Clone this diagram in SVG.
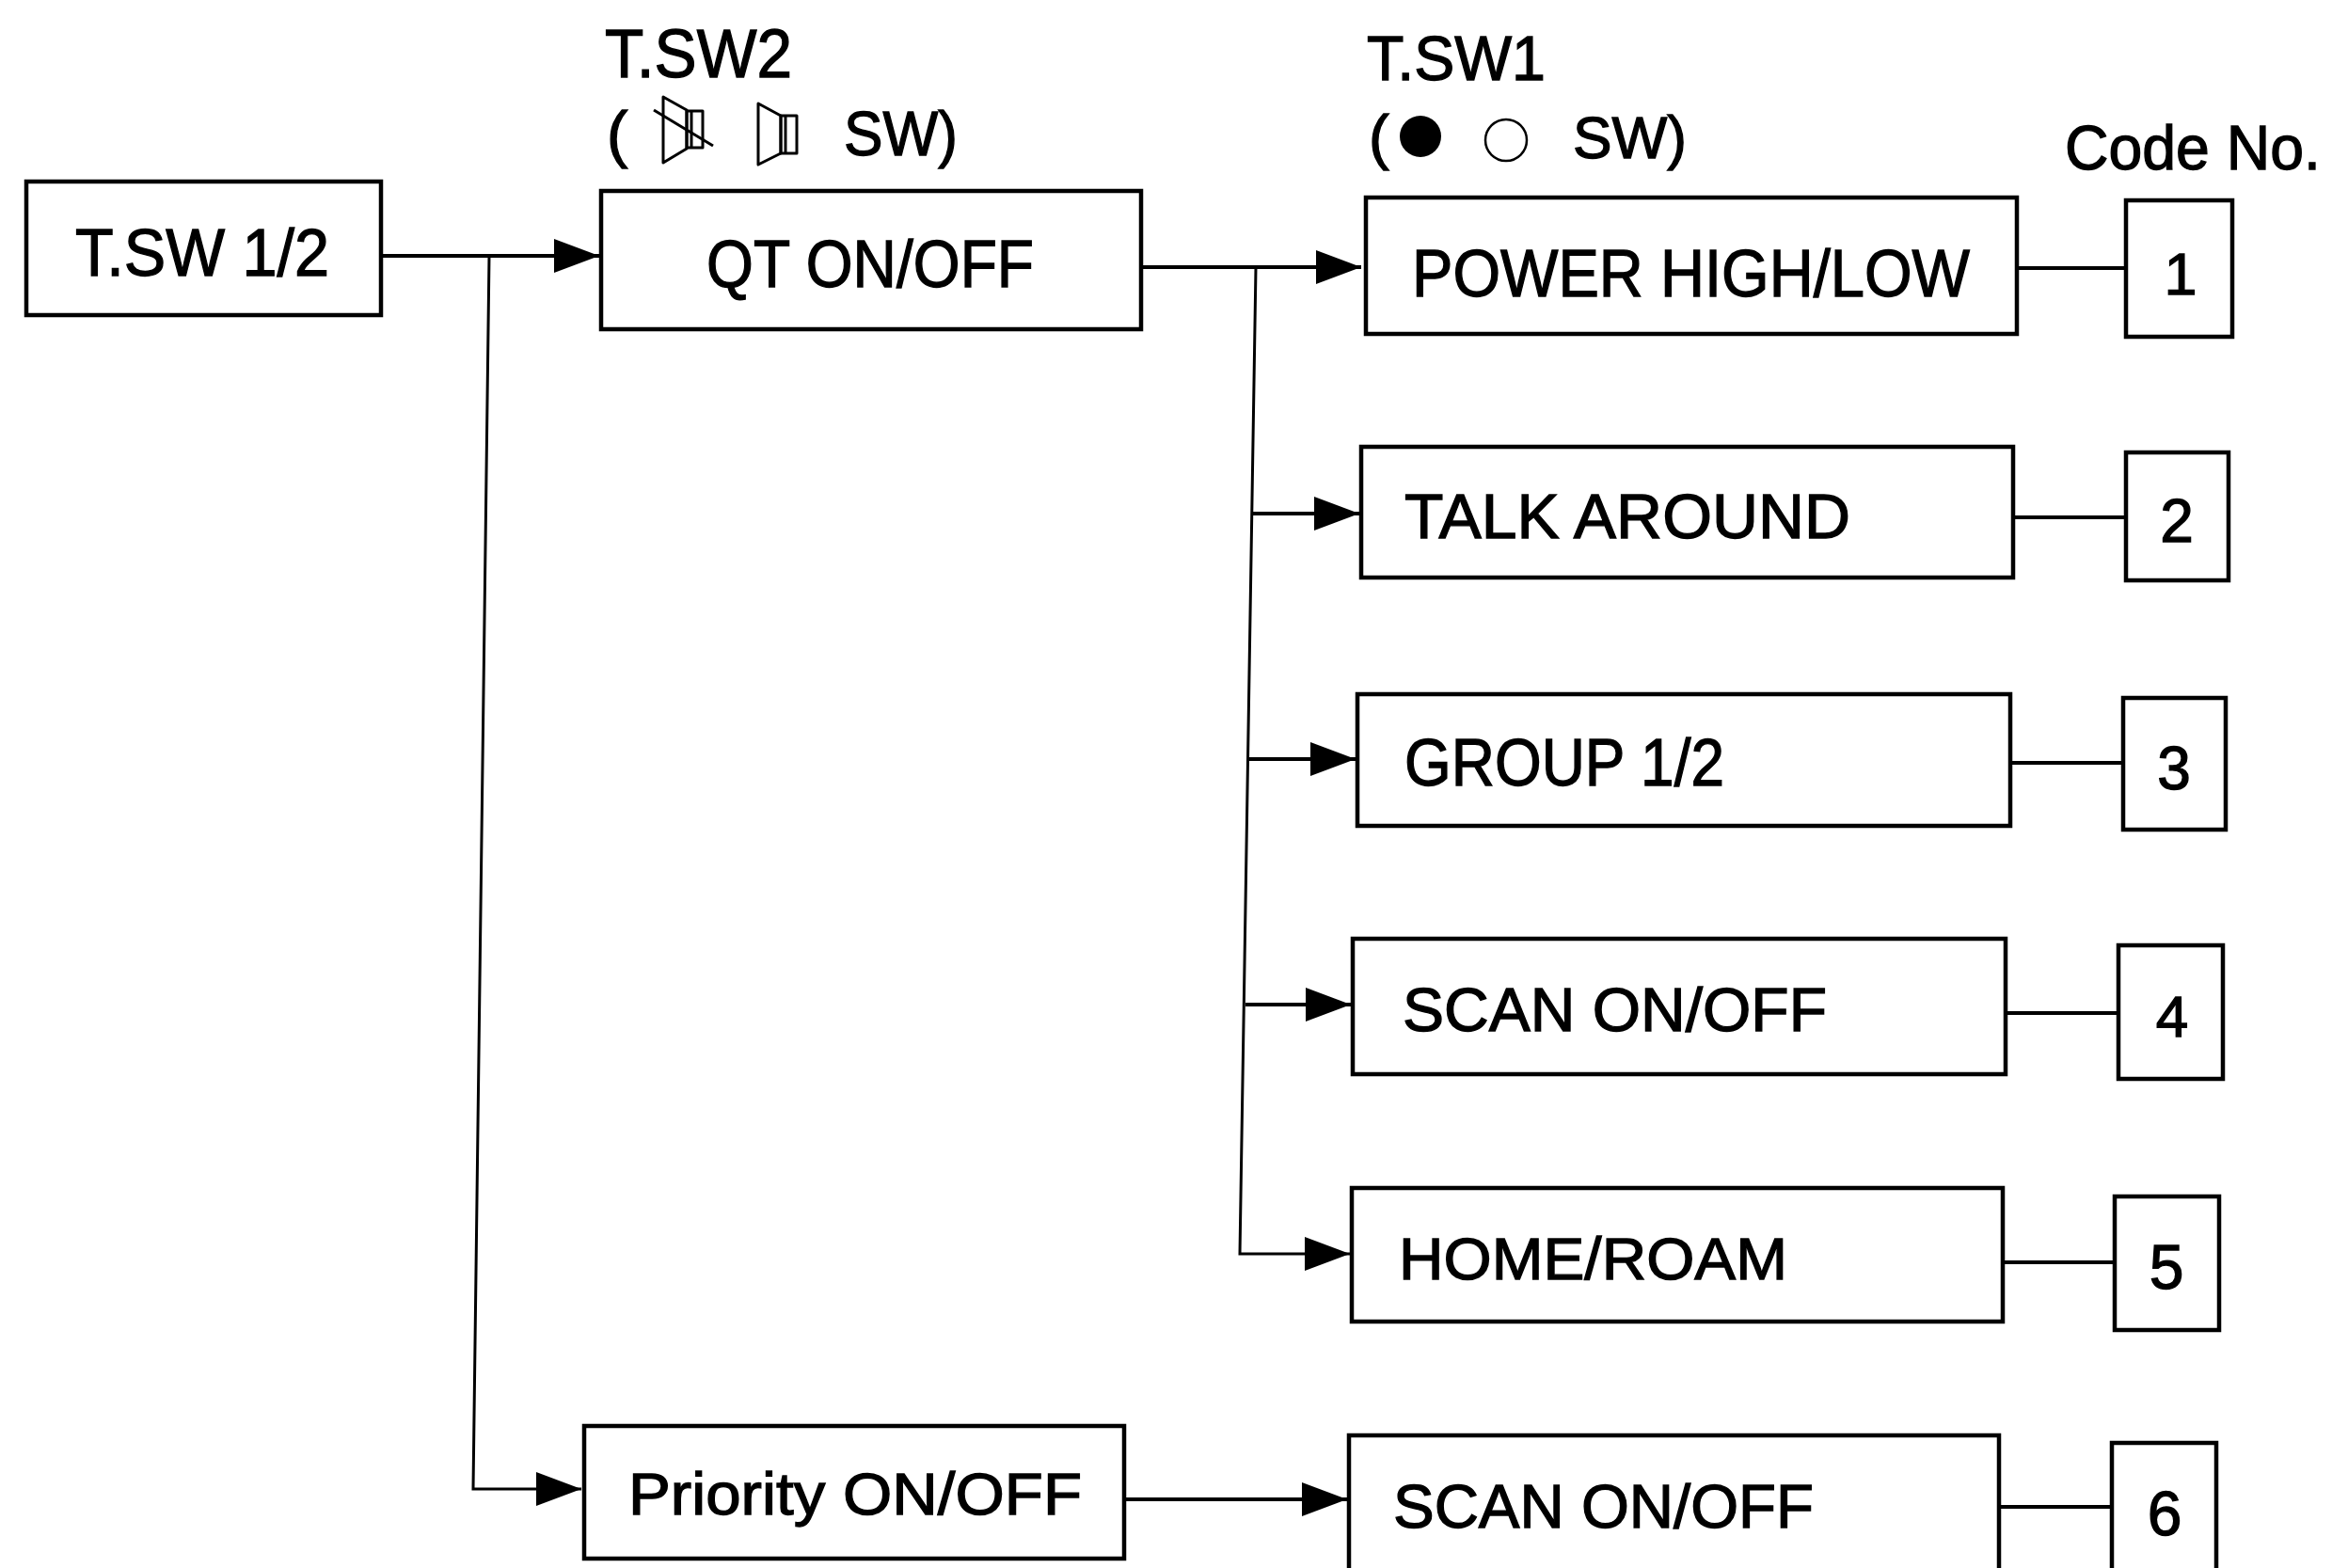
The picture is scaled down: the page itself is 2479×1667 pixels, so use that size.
<svg xmlns="http://www.w3.org/2000/svg" width="2479" height="1667" viewBox="0 0 2479 1667">
<defs>
<style>
.box{fill:#fff;stroke:#000;stroke-width:4.5}
.t{font-family:"Liberation Sans",Arial,sans-serif;fill:#000;stroke:#000;stroke-width:1.3}
.c{fill:none;stroke:#000;stroke-width:4}
.v{fill:none;stroke:#000;stroke-width:3}
.ic{fill:none;stroke:#000;stroke-width:3;stroke-linejoin:round}
</style>
<marker id="ah" markerUnits="userSpaceOnUse" markerWidth="50" markerHeight="40" refX="48" refY="18" orient="auto">
<path d="M0,0 L48,18 L0,36 Z" fill="#000"/>
</marker>
</defs>
<rect width="2479" height="1667" fill="#fff"/>

<g id="connectors">
<path class="c" d="M405,272 H637" marker-end="url(#ah)"/>
<path class="v" d="M520,272 L503,1583 H618" marker-end="url(#ah)"/>
<path class="c" d="M1213,284 H1447" marker-end="url(#ah)"/>
<path class="v" d="M1335,284 L1318,1333 H1435" marker-end="url(#ah)"/>
<path class="c" d="M1332,546 H1445" marker-end="url(#ah)"/>
<path class="c" d="M1328,807 H1441" marker-end="url(#ah)"/>
<path class="c" d="M1324,1068 H1436" marker-end="url(#ah)"/>
<path class="c" d="M1195,1594 H1432" marker-end="url(#ah)"/>
<path class="c" d="M2144,285 H2260"/>
<path class="c" d="M2140,550 H2260"/>
<path class="c" d="M2137,811 H2257"/>
<path class="c" d="M2132,1077 H2252"/>
<path class="c" d="M2129,1342 H2248"/>
<path class="c" d="M2125,1602 H2245"/>
</g>

<g id="label-tsw2">
<text class="t" x="643" y="82" font-size="72" textLength="199" lengthAdjust="spacingAndGlyphs">T.SW2</text>
<text class="t" x="645" y="165" font-size="67">(</text>
<g id="icon-speaker-off">
<path class="ic" d="M705,103 L730,117 L730,158 L705,173 Z"/>
<rect class="ic" x="730" y="118" width="17" height="39"/>
<line class="ic" x1="735" y1="118" x2="735" y2="157"/>
<line class="ic" x1="695" y1="117" x2="758" y2="155"/>
</g>
<g id="icon-speaker-on">
<path class="ic" d="M806,110 L830,123 L830,163 L806,175 Z"/>
<rect class="ic" x="830" y="123" width="17" height="40"/>
<line class="ic" x1="835" y1="123" x2="835" y2="163"/>
</g>
<text class="t" x="897" y="165" font-size="67" textLength="121" lengthAdjust="spacingAndGlyphs">SW)</text>
</g>

<g id="label-tsw1">
<text class="t" x="1453" y="85" font-size="66" textLength="190" lengthAdjust="spacingAndGlyphs">T.SW1</text>
<text class="t" x="1455" y="168" font-size="65">(</text>
<circle cx="1510" cy="145" r="22" fill="#000"/>
<circle cx="1601" cy="149" r="22" fill="none" stroke="#000" stroke-width="2.5"/>
<text class="t" x="1672" y="168" font-size="63" textLength="121" lengthAdjust="spacingAndGlyphs">SW)</text>
</g>

<g id="label-code-no">
<text class="t" x="2195" y="180" font-size="67" textLength="272" lengthAdjust="spacingAndGlyphs">Code No.</text>
</g>

<g id="node-tsw12">
<rect class="box" x="28" y="193" width="377" height="142"/>
<text class="t" x="80" y="293" font-size="71" textLength="270" lengthAdjust="spacingAndGlyphs">T.SW 1/2</text>
</g>
<g id="node-qt">
<rect class="box" x="639" y="203" width="574" height="147"/>
<text class="t" x="751" y="305" font-size="70" textLength="348" lengthAdjust="spacingAndGlyphs">QT ON/OFF</text>
</g>
<g id="node-priority">
<rect class="box" x="621" y="1516" width="574" height="141"/>
<text class="t" x="668" y="1610" font-size="63" textLength="482" lengthAdjust="spacingAndGlyphs">Priority ON/OFF</text>
</g>
<g id="node-power">
<rect class="box" x="1452" y="210" width="692" height="145"/>
<text class="t" x="1501" y="315" font-size="70" textLength="593" lengthAdjust="spacingAndGlyphs">POWER HIGH/LOW</text>
</g>
<g id="node-talk">
<rect class="box" x="1447" y="475" width="693" height="139"/>
<text class="t" x="1493" y="572" font-size="67" textLength="474" lengthAdjust="spacingAndGlyphs">TALK AROUND</text>
</g>
<g id="node-group">
<rect class="box" x="1443" y="738" width="694" height="140"/>
<text class="t" x="1493" y="835" font-size="70" textLength="340" lengthAdjust="spacingAndGlyphs">GROUP 1/2</text>
</g>
<g id="node-scan1">
<rect class="box" x="1438" y="998" width="694" height="144"/>
<text class="t" x="1491" y="1096" font-size="64" textLength="451" lengthAdjust="spacingAndGlyphs">SCAN ON/OFF</text>
</g>
<g id="node-home">
<rect class="box" x="1437" y="1263" width="692" height="142"/>
<text class="t" x="1487" y="1360" font-size="63" textLength="413" lengthAdjust="spacingAndGlyphs">HOME/ROAM</text>
</g>
<g id="node-scan2">
<rect class="box" x="1434" y="1526" width="691" height="146"/>
<text class="t" x="1481" y="1624" font-size="64" textLength="447" lengthAdjust="spacingAndGlyphs">SCAN ON/OFF</text>
</g>

<g id="code-1"><rect class="box" x="2260" y="213" width="113" height="145"/><text class="t" x="2318" y="313" font-size="63" text-anchor="middle">1</text></g>
<g id="code-2"><rect class="box" x="2260" y="481" width="109" height="136"/><text class="t" x="2314" y="576" font-size="64" text-anchor="middle">2</text></g>
<g id="code-3"><rect class="box" x="2257" y="742" width="109" height="140"/><text class="t" x="2311" y="839" font-size="64" text-anchor="middle">3</text></g>
<g id="code-4"><rect class="box" x="2252" y="1005" width="111" height="142"/><text class="t" x="2309" y="1102" font-size="62" text-anchor="middle">4</text></g>
<g id="code-5"><rect class="box" x="2248" y="1272" width="111" height="142"/><text class="t" x="2303" y="1370" font-size="66" text-anchor="middle">5</text></g>
<g id="code-6"><rect class="box" x="2245" y="1534" width="111" height="140"/><text class="t" x="2301" y="1632" font-size="66" text-anchor="middle">6</text></g>
</svg>
